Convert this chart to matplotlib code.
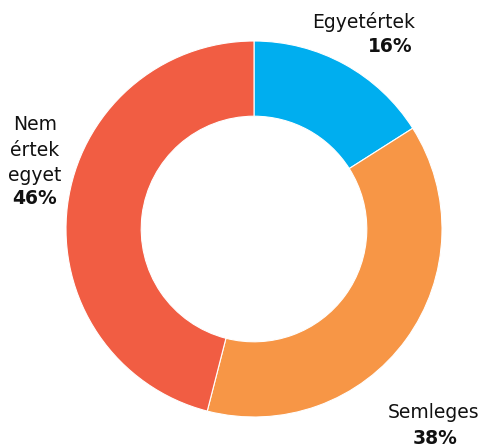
import matplotlib
matplotlib.use("Agg")
import matplotlib.pyplot as plt

labels = ["Egyetértek", "Semleges", "Nem\nértek\negyet"]
values = [16, 38, 46]
colors = ["#00AEEF", "#F79646", "#F15D43"]

W, H = 480, 447
cx, cy, R = 254, 229, 188
fig = plt.figure(figsize=(W/100, H/100), dpi=100)
ax = fig.add_axes([(cx-R)/W, (H-cy-R)/H, 2*R/W, 2*R/H])
ax.pie(values, colors=colors, startangle=90, counterclock=False, radius=1,
       wedgeprops=dict(width=0.4, edgecolor="white", linewidth=0.8))
ax.set_xlim(-1, 1); ax.set_ylim(-1, 1)
ax.set_aspect("equal")
ax.axis("off")

def d(px, py):
    return ((px-cx)/R, (cy-py)/R)

fs = 13.5
kw = dict(ha="center", va="center", fontsize=fs, color="#111111", clip_on=False, family="DejaVu Sans")
ax.text(*d(364, 22), labels[0], **kw)
ax.text(*d(390, 47), f"{values[0]}%", fontweight="bold", **kw)
ax.text(*d(434, 413), labels[1], **kw)
ax.text(*d(435, 438), f"{values[1]}%", fontweight="bold", **kw)
ax.text(*d(35, 150), labels[2], linespacing=1.42, **kw)
ax.text(*d(35, 198), f"{values[2]}%", fontweight="bold", **kw)

fig.savefig("out.png", dpi=100)
